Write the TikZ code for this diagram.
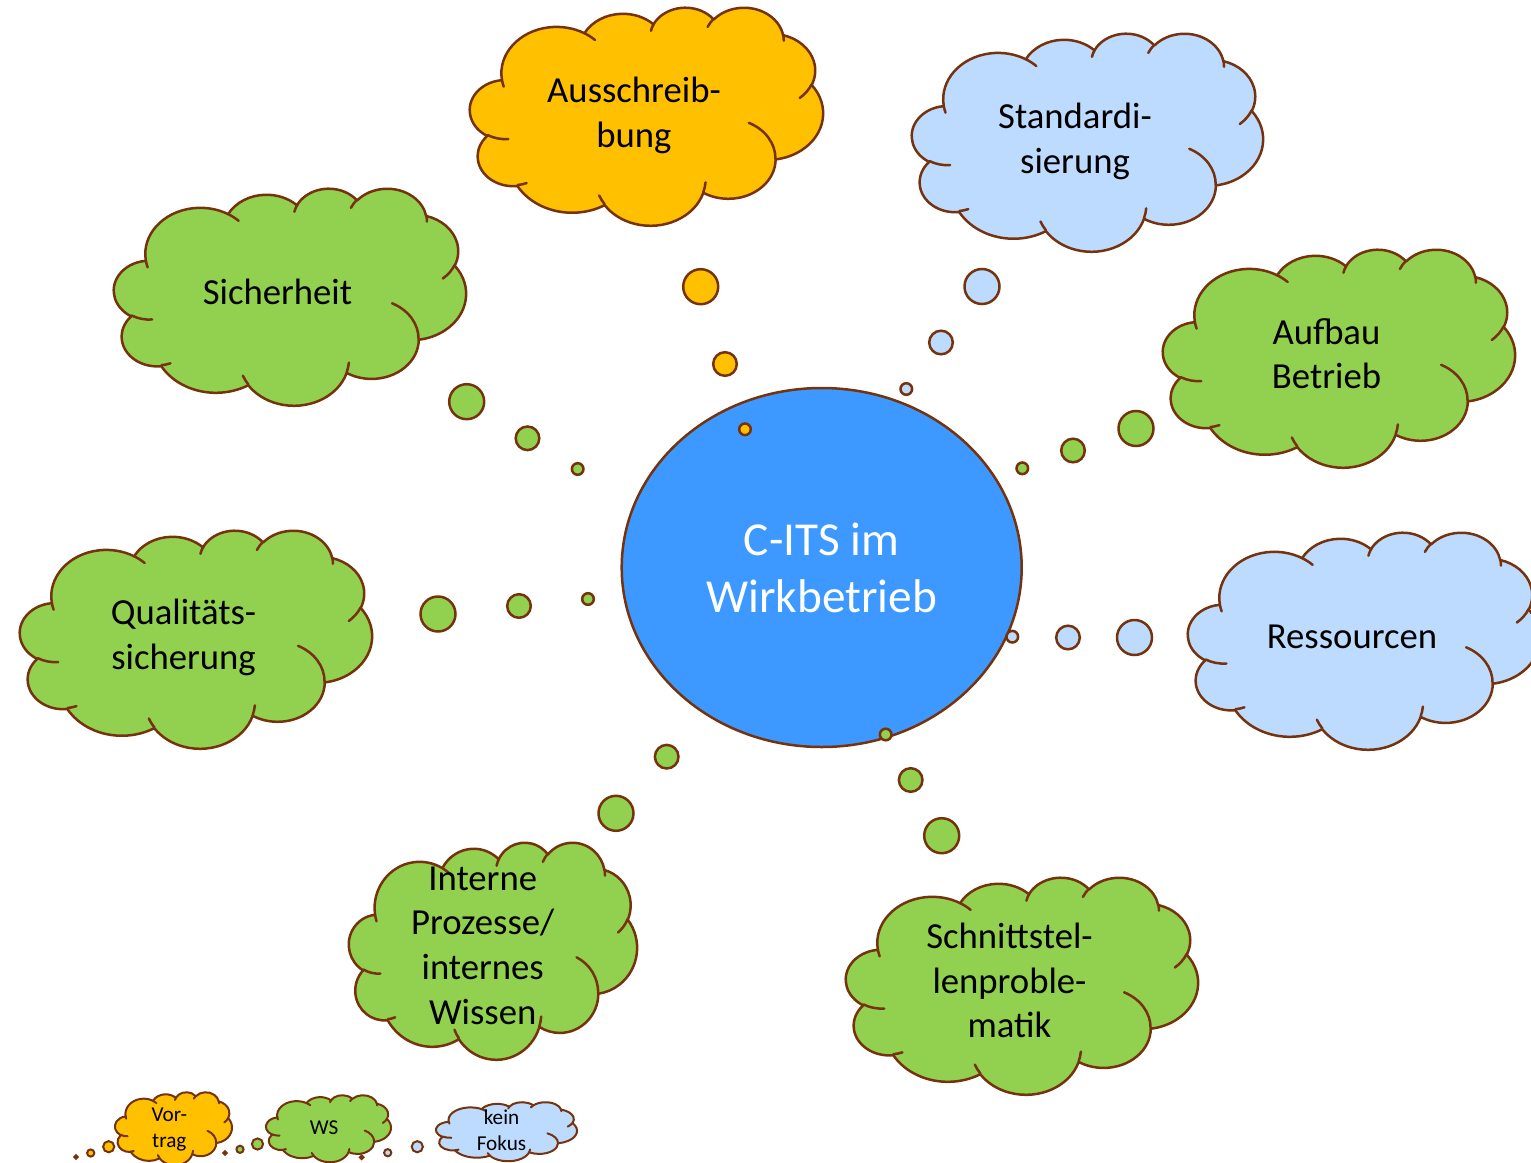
\documentclass[tikz,border=0pt]{standalone}
\usepackage{fontspec}
\setmainfont{Carlito}
\definecolor{brd}{HTML}{75320C}
\definecolor{corange}{HTML}{FFC000}
\definecolor{cgreen}{HTML}{92D050}
\definecolor{cblue}{HTML}{BDDBFF}
\definecolor{cmain}{HTML}{3D99FF}

% arc of the cloud outline (OOXML cloud geometry, 43200 units, visual angles)
\newcommand\mkarc[5]{%
  \edef\tmpa{\fpeval{round(atand((#2)*sind((#4)/60000),(#3)*cosd((#4)/60000)),4)}}%
  \edef\tmpb{\fpeval{round(atand((#2)*sind((#4+#5)/60000),(#3)*cosd((#4+#5)/60000)),4)}}%
  \edef\tmpd{\fpeval{round(((\tmpb)-(\tmpa)+720)-360*floor(((\tmpb)-(\tmpa)+720)/360),4)}}%
  \expandafter\xdef\csname cldarc#1\endcsname{arc[start angle=\tmpa, delta angle=\tmpd, x radius=\fpeval{(#2)/1000}, y radius=\fpeval{(#3)/1000}]}%
}
\mkarc{a}{6753}{9190}{-11429249}{7426832}
\mkarc{b}{5333}{7267}{-8646143}{5396714}
\mkarc{c}{4365}{5945}{-8748475}{5983381}
\mkarc{d}{4857}{6595}{-7859164}{7034504}
\mkarc{e}{5333}{7273}{-4722533}{6541615}
\mkarc{f}{6775}{9220}{-2776035}{7816140}
\mkarc{g}{5785}{7867}{37501}{6842000}
\mkarc{h}{6752}{9215}{1347096}{6910353}
\mkarc{i}{7720}{10543}{3974558}{4542661}
\mkarc{j}{4360}{5918}{-16496525}{8804134}
\mkarc{k}{4345}{5945}{-14809710}{9151131}
\mkarc{A}{4345}{5945}{5204520}{1585770}
\mkarc{B}{4360}{5918}{4416628}{686848}
\mkarc{C}{6752}{9215}{8257449}{844866}
\mkarc{D}{6752}{9215}{387196}{959901}
\mkarc{E}{5785}{7867}{-4217541}{4255042}
\mkarc{F}{5333}{7273}{1819082}{1665090}
\mkarc{G}{4857}{6595}{-824660}{891534}
\mkarc{H}{4857}{6595}{-8950887}{1091722}
\mkarc{I}{4365}{5945}{-9809656}{1061181}
\mkarc{J}{6753}{9190}{-4002417}{739161}
\mkarc{K}{6753}{9190}{9459261}{711490}

\def\cloudouter{(3.9,14.37) \cldarca \cldarcb \cldarcc \cldarcd \cldarce \cldarcf \cldarcg \cldarch \cldarci \cldarcj \cldarck -- cycle}
\def\cloudinner{(4.693,26.177) \cldarcA (6.928,34.899) \cldarcB (16.478,39.09) \cldarcC (28.827,34.751) \cldarcD (34.129,22.954) \cldarcE (41.798,15.354) \cldarcF (38.324,5.426) \cldarcG (29.078,3.952) \cldarcH (22.141,4.72) \cldarcI (14.0,5.192) \cldarcJ (4.127,15.789) \cldarcK}

% #1 x0  #2 y0  #3 width  #4 height (pixels)  #5 fill  #6 line width
\newcommand\drawcloud[6]{%
  \begin{scope}[shift={(#1,#2)},x=\fpeval{(#3)/86.4}pt,y=\fpeval{-(#4)/86.4}pt]
    \path[draw=brd,line width=#6,line join=round,fill=#5] \cloudouter;
    \path[draw=brd,line width=#6,line cap=round] \cloudinner;
  \end{scope}}

\tikzset{
  bub/.style={draw=brd,line width=1.25pt},
  lbub/.style={draw=brd,line width=1pt},
  ctext/.style={font=\fontsize{18.35}{22.35}\selectfont,align=center,inner sep=0pt,text depth=0pt,text=black},
  ltext/.style={font=\fontsize{10.6}{13}\selectfont,align=center,inner sep=0pt,text depth=0pt,text=black},
  mtext/.style={font=\fontsize{23.65}{28.4}\selectfont,align=center,inner sep=0pt,text=white},
}

\begin{document}
\begin{tikzpicture}[x=0.5pt,y=-0.5pt]
\useasboundingbox (0,0) rectangle (1531,1162);

% central ellipse
\draw[draw=brd,line width=1.25pt,fill=cmain] (821.7,567.5) ellipse[x radius=200, y radius=179.5];
\node[mtext] (main) at (821.7,568) {C-ITS im\\Wirkbetrieb};

% bubbles
\draw[bub,fill=corange] (700.7,286.7) circle[radius=17.5] (725,364) circle[radius=11.8] (745,429.3) circle[radius=5.8];
\draw[bub,fill=cblue] (982,286.5) circle[radius=17.5] (941,342.5) circle[radius=11.8] (906.3,389) circle[radius=5.8];
\draw[bub,fill=cgreen] (466.7,401.7) circle[radius=17.5] (527.5,438.3) circle[radius=11.8] (577.7,469) circle[radius=5.8];
\draw[bub,fill=cgreen] (1136,428.5) circle[radius=17.5] (1073,450.5) circle[radius=11.8] (1022.3,468.3) circle[radius=5.8];
\draw[bub,fill=cgreen] (438,614) circle[radius=17.5] (519,606) circle[radius=11.8] (588,599) circle[radius=5.8];
\draw[bub,fill=cblue] (1134.5,637.5) circle[radius=17.5] (1068,637.5) circle[radius=11.8] (1012.3,636.7) circle[radius=5.8];
\draw[bub,fill=cgreen] (616,813.3) circle[radius=17.5] (666.7,756.7) circle[radius=11.8];
\draw[bub,fill=cgreen] (941.7,835.7) circle[radius=17.5] (910.7,780) circle[radius=11.8] (885.7,734.5) circle[radius=5.8];

% clouds
\drawcloud{470}{7}{353}{218}{corange}{1.25pt}
\node[ctext] (aus) at (634,112) {Ausschreib-\\bung};
\drawcloud{912}{33}{351}{218}{cblue}{1.25pt}
\node[ctext] (std) at (1075,138) {Standardi-\\sierung};
\drawcloud{114}{188}{352}{217}{cgreen}{1.25pt}
\node[ctext] (sich) at (277.5,292) {Sicherheit};
\drawcloud{1163}{249}{352}{218}{cgreen}{1.25pt}
\node[ctext] (auf) at (1326.5,353.5) {Aufbau\\Betrieb};
\drawcloud{20}{530}{352}{218}{cgreen}{1.25pt}
\node[ctext] (qual) at (183.5,634.5) {Qualitäts-\\sicherung};
\drawcloud{1188}{532}{352}{217}{cblue}{1.25pt}
\node[ctext] (res) at (1352,637) {Ressourcen};
\drawcloud{349}{842}{288}{217}{cgreen}{1.25pt}
\node[ctext] (int) at (482.7,945.5) {Interne\\Prozesse/\\internes\\Wissen};
\drawcloud{846}{877}{352}{217}{cgreen}{1.25pt}
\node[ctext] (sch) at (1009.5,980.5) {Schnittstel-\\lenproble-\\matik};

% legend
\draw[lbub,fill=corange] (76,1157) circle[radius=1.8] (90.7,1153) circle[radius=3.6] (108.7,1146.7) circle[radius=5.6];
\draw[lbub,fill=cgreen] (225,1153) circle[radius=1.8] (240,1149.3) circle[radius=3.6] (257.5,1144) circle[radius=5.6];
\draw[lbub,fill=cblue] (361.7,1157.3) circle[radius=1.8] (387.7,1152.7) circle[radius=3.6] (417.3,1146.7) circle[radius=5.6];
\drawcloud{115}{1092}{117}{73}{corange}{1pt}
\node[ltext] (vor) at (169.3,1128) {Vor-\\trag};
\drawcloud{266}{1095}{125}{67}{cgreen}{1pt}
\node[ltext] (ws) at (324,1127.5) {WS};
\drawcloud{436}{1102}{141}{59}{cblue}{1pt}
\node[ltext] (kf) at (501.5,1130) {kein\\Fokus};
\end{tikzpicture}
\end{document}
